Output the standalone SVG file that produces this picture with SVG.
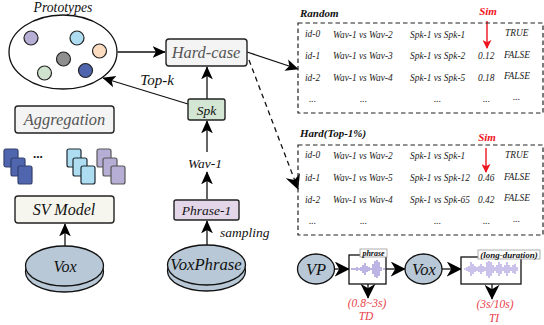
<svg xmlns="http://www.w3.org/2000/svg" width="544" height="325" viewBox="0 0 544 325">
<style>
text{font-family:"Liberation Serif",serif;font-style:italic;fill:#111}
.box{stroke:#222;stroke-width:1.4}
.t{font-size:9.400px;fill:#222}
.h{font-size:11px;font-weight:bold}
.r{fill:#e8404a;font-size:11.500px;text-anchor:middle}
.sim{fill:#f0141e;font-size:11px;font-weight:bold;text-anchor:middle}
.c{stroke:#111;stroke-width:1.3;fill:none}
.m{text-anchor:middle}
.db{fill:#4f66ae;stroke:#33406f;stroke-width:1.2}
.lb{fill:#aedcf0;stroke:#1d2a33;stroke-width:1.2}
.pu{fill:#b7aed6;stroke:#555;stroke-width:1.2}
.cyl{fill:#b8c8d6;stroke:#111;stroke-width:1.3}
.w1{stroke:#7a6cc8;stroke-width:1;fill:none}
.w2{stroke:#a99ade;stroke-width:1.2;fill:none}
</style>
<defs>
<marker id="big" viewBox="0 0 10 10" refX="9.500" refY="5" markerWidth="13" markerHeight="13" markerUnits="userSpaceOnUse" orient="auto"><path d="M0 0.500L10 5L0 9.500L2.500 5Z" fill="#000"/></marker>
<marker id="huge" viewBox="0 0 10 10" refX="9.500" refY="5" markerWidth="15" markerHeight="15" markerUnits="userSpaceOnUse" orient="auto"><path d="M0 0L10 5L0 10L3 5Z" fill="#000"/></marker>
<marker id="red" viewBox="0 0 10 10" refX="9" refY="5" markerWidth="9" markerHeight="9" markerUnits="userSpaceOnUse" orient="auto"><path d="M0 0L10 5L0 10L2.500 5Z" fill="#f0141e"/></marker>
</defs>

<g id="connectors">
<path class="c" d="M117.500 52H165" marker-end="url(#big)"/>
<path class="c" d="M207 99V67" marker-end="url(#big)"/>
<path class="c" d="M188 104L103 78" marker-end="url(#big)"/>
<path class="c" d="M207 152V121" marker-end="url(#big)"/>
<path class="c" d="M207 199V172" marker-end="url(#big)"/>
<path class="c" d="M207 245V221" marker-end="url(#big)"/>
<path class="c" d="M65 251V224" marker-end="url(#big)"/>
<path class="c" d="M247 52L298 69" marker-end="url(#big)"/>
<path class="c" d="M249 60L298 189" stroke-dasharray="5 4" marker-end="url(#huge)"/>
<path d="M487 21V48" stroke="#f0141e" stroke-width="1.400" fill="none" marker-end="url(#red)"/>
<path d="M486 148V172" stroke="#f0141e" stroke-width="1.400" fill="none" marker-end="url(#red)"/>
<path class="c" d="M334 269H349" marker-end="url(#huge)"/>
<path class="c" d="M386 269H405" marker-end="url(#huge)"/>
<path class="c" d="M442 269H461" marker-end="url(#huge)"/>
<path class="c" d="M368 284V298" marker-end="url(#huge)"/>
<path class="c" d="M492 284V299" marker-end="url(#huge)"/>
</g>

<g id="prototypes">
<text class="m" x="63" y="11.500" style="font-size:13.700px">Prototypes</text>
<ellipse cx="63" cy="52" rx="54" ry="37" fill="#fff" stroke="#111" stroke-width="1.300"/>
<circle cx="31" cy="38" r="7" fill="#b7aed6" stroke="#222" stroke-width="1.200"/>
<circle cx="77" cy="38" r="7" fill="#aedcf0" stroke="#222" stroke-width="1.200"/>
<circle cx="99.500" cy="51" r="7" fill="#fbdcc0" stroke="#222" stroke-width="1.200"/>
<circle cx="63.500" cy="59" r="7" fill="#8f8f8f" stroke="#222" stroke-width="1.200"/>
<circle cx="85.500" cy="70.500" r="7" fill="#4f66ae" stroke="#222" stroke-width="1.200"/>
<circle cx="44.500" cy="73" r="7" fill="#cfe3cf" stroke="#222" stroke-width="1.200"/>
</g>

<g id="hard-case">
<rect class="box" x="166" y="39" width="81" height="27" rx="3" fill="#f4f4f4"/>
<text class="m" x="206" y="58" style="font-size:16.400px;fill:#555">Hard-case</text>
</g>
<text class="m" x="157" y="85" style="font-size:15px">Top-k</text>

<g id="spk">
<rect class="box" x="188" y="99" width="37" height="21" rx="2" fill="#d3e6d3"/>
<text class="m" x="206.500" y="115" style="font-size:13.500px">Spk</text>
</g>

<g id="aggregation">
<rect class="box" x="15" y="106" width="99" height="27" rx="3" fill="#f4f4f4"/>
<text class="m" x="64.500" y="125" style="font-size:16.400px;fill:#555">Aggregation</text>
</g>

<g id="embeddings">
<rect class="db" x="4" y="149" width="14" height="18" rx="2"/>
<rect class="db" x="11" y="158" width="14" height="18" rx="2"/>
<rect class="db" x="18" y="166" width="14" height="18" rx="2"/>
<text x="33" y="158" style="font-size:13px;font-weight:bold;font-style:normal">...</text>
<rect class="lb" x="67" y="149" width="14" height="18" rx="2"/>
<rect class="lb" x="73" y="158" width="14" height="18" rx="2"/>
<rect class="lb" x="81" y="166" width="14" height="18" rx="2"/>
<rect class="pu" x="97" y="149" width="14" height="18" rx="2"/>
<rect class="pu" x="103" y="158" width="14" height="18" rx="2"/>
<rect class="pu" x="111" y="166" width="14" height="18" rx="2"/>
</g>

<g id="sv-model">
<rect class="box" x="15" y="196" width="99" height="27" rx="3" fill="#f7f6ee"/>
<text class="m" x="64" y="215" style="font-size:16px">SV Model</text>
</g>

<g id="vox">
<ellipse class="cyl" cx="64.500" cy="272" rx="39" ry="20"/>
<ellipse class="cyl" cx="64.500" cy="266" rx="39" ry="20"/>
<text class="m" x="65" y="272" style="font-size:16px">Vox</text>
</g>

<text class="m" x="205" y="168" style="font-size:13.500px">Wav-1</text>

<g id="phrase-1">
<rect class="box" x="174" y="200" width="65" height="20" rx="2" fill="#e3d6e8"/>
<text class="m" x="206.500" y="215" style="font-size:13.500px">Phrase-1</text>
</g>
<text x="220" y="237" style="font-size:13.500px">sampling</text>

<g id="voxphrase">
<ellipse class="cyl" cx="206.500" cy="271" rx="39" ry="20"/>
<ellipse class="cyl" cx="206.500" cy="265" rx="39" ry="20"/>
<text class="m" x="206" y="270" style="font-size:16.700px">VoxPhrase</text>
</g>

<g id="random-table">
<text class="h" x="300" y="17">Random</text>
<text class="sim" x="488" y="15">Sim</text>
<rect x="298" y="23" width="245" height="90" fill="none" stroke="#222" stroke-width="1.200" stroke-dasharray="4.500 3"/>
<text class="t" x="305" y="37">id-0</text><text class="t" x="333" y="38">Wav-1 vs Wav-2</text><text class="t" x="410" y="38">Spk-1 vs Spk-1</text><text class="t" x="505" y="36">TRUE</text>
<text class="t" x="305" y="59">id-1</text><text class="t" x="333" y="59">Wav-1 vs Wav-3</text><text class="t" x="410" y="59">Spk-1 vs Spk-2</text><text class="t" x="478" y="59">0.12</text><text class="t" x="504" y="58">FALSE</text>
<text class="t" x="305" y="81">id-2</text><text class="t" x="333" y="81">Wav-1 vs Wav-4</text><text class="t" x="410" y="81">Spk-1 vs Spk-5</text><text class="t" x="478" y="81">0.18</text><text class="t" x="504" y="79">FALSE</text>
<text class="t" x="309" y="102">...</text><text class="t" x="360" y="102">...</text><text class="t" x="434" y="102">...</text><text class="t" x="483" y="102">...</text><text class="t" x="513" y="100">...</text>
</g>

<g id="hard-table">
<text class="h" x="300" y="137">Hard(Top-1%)</text>
<text class="sim" x="487" y="141">Sim</text>
<rect x="298" y="145" width="245" height="90" fill="none" stroke="#222" stroke-width="1.200" stroke-dasharray="4.500 3"/>
<text class="t" x="305" y="158">id-0</text><text class="t" x="333" y="159">Wav-1 vs Wav-2</text><text class="t" x="410" y="159">Spk-1 vs Spk-1</text><text class="t" x="505" y="158">TRUE</text>
<text class="t" x="305" y="181">id-1</text><text class="t" x="333" y="181">Wav-1 vs Wav-5</text><text class="t" x="410" y="181">Spk-1 vs Spk-12</text><text class="t" x="478" y="181">0.46</text><text class="t" x="504" y="180">FALSE</text>
<text class="t" x="305" y="203">id-2</text><text class="t" x="333" y="203">Wav-1 vs Wav-4</text><text class="t" x="410" y="203">Spk-1 vs Spk-65</text><text class="t" x="478" y="203">0.42</text><text class="t" x="504" y="201">FALSE</text>
<text class="t" x="309" y="224">...</text><text class="t" x="360" y="224">...</text><text class="t" x="434" y="224">...</text><text class="t" x="483" y="224">...</text><text class="t" x="513" y="222">...</text>
</g>

<g id="vp">
<ellipse cx="316" cy="269" rx="18.500" ry="15" fill="#b8c8d6" stroke="#111" stroke-width="1.300"/>
<text class="m" x="316" y="275" style="font-size:16.500px">VP</text>
</g>

<g id="phrase-wave">
<rect x="349" y="255" width="37" height="29" fill="#fff" stroke="#111" stroke-width="1.300"/>
<path class="w1" d="M351 269h3M355 268v2M357 267v4M359 268v2M361 267v4M363 265v8M365 263v12M367 266v6M369 267v4M371 268v2M373 264v10M375 261v16M377 260v18M379 262v14M381 267v4M383 269h2"/>
<rect x="360" y="249" width="27" height="8" fill="#fff" stroke="#999" stroke-width=".8"/>
<text class="m" x="373.500" y="255.500" style="font-size:8px;font-weight:bold">phrase</text>
</g>

<g id="vox-small">
<ellipse cx="423.500" cy="269" rx="18.500" ry="15" fill="#b8c8d6" stroke="#111" stroke-width="1.300"/>
<text class="m" x="424" y="275" style="font-size:16.500px">Vox</text>
</g>

<g id="long-wave">
<rect x="461" y="257" width="60" height="27" fill="#fff" stroke="#111" stroke-width="1.300"/>
<path class="w2" d="M464 269h2M467 267v4M469 266v6M471 262v14M473 264v10M475 266v6M477 267v4M479 266v6M481 264v10M483 266v6M485 267v4M487 262v14M489 261v17M491 262v14M493 265v8M495 267v4M497 265v8M499 262v14M501 264v10M503 267v4M505 265v8M507 262v14M509 265v8M511 267v4M513 265v8M515 264v10M517 267v4"/>
<rect x="478" y="250" width="62" height="9" fill="#fff" stroke="#999" stroke-width=".8"/>
<text class="m" x="509" y="257.500" style="font-size:9px;font-weight:bold">(long-duration)</text>
</g>

<g id="labels">
<text class="r" x="367" y="307">(0.8~3s)</text>
<text class="r" x="366" y="320">TD</text>
<text class="r" x="495" y="308">(3s/10s)</text>
<text class="r" x="494" y="322">TI</text>
</g>
</svg>
